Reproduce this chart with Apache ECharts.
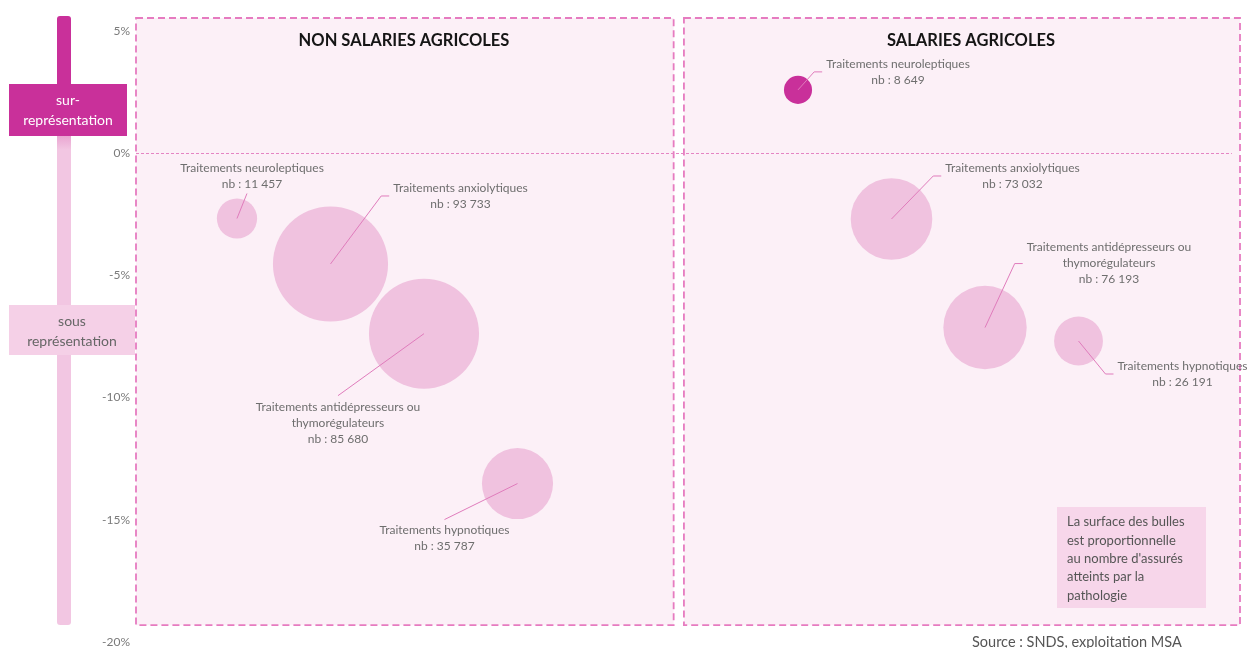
<!DOCTYPE html>
<html>
<head>
<meta charset="utf-8">
<script src="https://cdn.jsdelivr.net/npm/echarts@6/dist/echarts.min.js"></script>
<style>
html, body { margin: 0; padding: 0; background: #fff; }
#chart { width: 1250px; height: 648px; }
</style>
</head>
<body>
<div id="chart"></div>
<script>
// données
const treatments = [
    'Traitements neuroleptiques',
    'Traitements anxiolytiques',
    'Traitements antidépresseurs ou\nthymorégulateurs',
    'Traitements hypnotiques'
];
const nonSalPos = [1, 2, 3, 4];
const nonSalPct = [-2.68, -4.54, -7.39, -13.52];
const nonSalNb = [11457, 93733, 85680, 35787];
const salPos = [7, 8, 9, 10];
const salPct = [2.58, -2.70, -7.14, -7.69];
const salNb = [8649, 73032, 76193, 26191];
const yTicks = [-20, -15, -10, -5, 0, 5];
const panelTitles = ['NON SALARIES AGRICOLES', 'SALARIES AGRICOLES'];

// décalages des étiquettes (px) et point d'accroche du trait
const nonSalOffsets = [[15, -42], [130, -68], [-86, 89], [-73, 55]];
const nonSalAnchors = ['bottom', 'left', 'top', 'top'];
const salOffsets = [[100, -18], [121, -43], [124, -64], [104, 33]];
const salAnchors = ['left', 'left', 'left', 'left'];

const font = 'Lato, "Open Sans", sans-serif';
const labelSize = 12;
const labelLH = 16;
const dark = '#c9309a';
const light = '#f0c2df';

const ctx = document.createElement('canvas').getContext('2d');
ctx.font = labelSize + 'px ' + font;

function fmtNb(n) {
    return String(n).replace(/\B(?=(\d{3})+(?!\d))/g, ' ');
}

function labelText(name, nb) {
    return name + '\nnb : ' + fmtNb(nb);
}

function makeData(pos, pct, nb) {
    return pos.map((x, i) => ({ name: treatments[i], value: [x, pct[i], nb[i]] }));
}

function bubbleSeries(data, scale, offsets, extra) {
    return Object.assign({
        type: 'scatter',
        clip: false,
        data: data,
        symbolSize: v => scale * Math.sqrt(v[2]),
        itemStyle: {
            color: p => (p.value[1] > 0 ? dark : light),
            opacity: 1
        },
        label: {
            show: true,
            position: 'inside',
            formatter: p => labelText(p.name, p.value[2]),
            color: '#6e6e6e',
            fontFamily: font,
            fontSize: labelSize,
            lineHeight: labelLH,
            align: 'center'
        },
        labelLayout: p => ({ dx: offsets[p.dataIndex][0], dy: offsets[p.dataIndex][1] }),
        emphasis: { disabled: true },
        z: 3
    }, extra || {});
}

// traits de rappel : du centre de la bulle vers l'étiquette
function guideSeries(data, offsets, anchors) {
    return {
        type: 'custom',
        silent: true,
        z: 4,
        data: data,
        renderItem: (params, api) => {
            const i = params.dataIndex;
            const c = api.coord([api.value(0), api.value(1)]);
            const d = data[i];
            const lines = labelText(d.name, d.value[2]).split('\n');
            const w = Math.max(...lines.map(s => ctx.measureText(s).width));
            const h = lines.length * labelLH;
            const lx = c[0] + offsets[i][0];
            const ly = c[1] + offsets[i][1];
            let pts;
            if (anchors[i] === 'left') {
                const ex = lx - w / 2 - 4;
                pts = [c, [ex - 8, ly], [ex, ly]];
            } else if (anchors[i] === 'top') {
                pts = [c, [lx, ly - h / 2 - 3]];
            } else {
                pts = [c, [lx - 5, ly + h / 2 + 1]];
            }
            return {
                type: 'polyline',
                shape: { points: pts },
                style: { stroke: '#e07cbc', lineWidth: 1, fill: null }
            };
        }
    };
}

const nonSalData = makeData(nonSalPos, nonSalPct, nonSalNb);
const salData = makeData(salPos, salPct, salNb);

const chart = echarts.init(document.getElementById('chart'));
chart.setOption({
    animation: false,
    title: [
        {
            text: panelTitles[0], left: 399, top: 27, textAlign: 'center',
            textStyle: { fontFamily: font, fontSize: 16.5, fontWeight: 'bold', color: '#151515' }
        },
        {
            text: panelTitles[1], left: 966, top: 27, textAlign: 'center',
            textStyle: { fontFamily: font, fontSize: 16.5, fontWeight: 'bold', color: '#151515' }
        }
    ],
    grid: { left: 136, right: 10, top: 18, bottom: 6 },
    xAxis: {
        type: 'value',
        min: -0.08,
        max: 11.727,
        show: false
    },
    yAxis: {
        type: 'value',
        min: yTicks[0],
        max: 5.52,
        interval: 5,
        axisLine: { show: false },
        axisTick: { show: false },
        splitLine: { show: false },
        axisLabel: {
            formatter: v => (yTicks.indexOf(v) >= 0 ? v + '%' : ''),
            color: '#7a7a7a',
            fontFamily: font,
            fontSize: 12,
            margin: 6
        }
    },
    series: [
        bubbleSeries(nonSalData, 0.376, nonSalOffsets, {
            markArea: {
                silent: true,
                z: 1,
                itemStyle: {
                    color: '#fcf0f7',
                    borderColor: '#e67bc0',
                    borderWidth: 1.8,
                    borderType: [7, 4]
                },
                data: [
                    [{ coord: [-0.08, 5.52] }, { coord: [5.67, -19.31] }],
                    [{ coord: [5.78, 5.52] }, { coord: [11.727, -19.31] }]
                ]
            },
            markLine: {
                silent: true,
                symbol: 'none',
                label: { show: false },
                lineStyle: { color: '#e585c3', type: [3, 2], width: 1 },
                data: [[{ coord: [-0.08, 0] }, { coord: [11.64, 0] }]]
            }
        }),
        bubbleSeries(salData, 0.302, salOffsets),
        guideSeries(nonSalData, nonSalOffsets, nonSalAnchors),
        guideSeries(salData, salOffsets, salAnchors)
    ],
    graphic: [
        // barre verticale
        {
            type: 'rect', x: 57, y: 16, z: 1,
            shape: { width: 14, height: 70, r: [3, 3, 0, 0] },
            style: { fill: dark }
        },
        {
            type: 'rect', x: 57, y: 135, z: 1,
            shape: { width: 14, height: 490, r: [0, 0, 3, 3] },
            style: {
                fill: new echarts.graphic.LinearGradient(0, 0, 0, 1, [
                    { offset: 0, color: '#e9a3d0' },
                    { offset: 0.03, color: '#f2c6e2' },
                    { offset: 1, color: '#f2c6e2' }
                ])
            }
        },
        {
            type: 'rect', x: 9, y: 84, z: 2,
            shape: { width: 118, height: 52 },
            style: { fill: dark }
        },
        {
            type: 'text', x: 68, y: 90, z: 3,
            style: {
                text: 'sur-\nreprésentation', fill: '#fff', align: 'center',
                font: '14px ' + font, lineHeight: 20
            }
        },
        {
            type: 'rect', x: 9, y: 305, z: 2,
            shape: { width: 126, height: 50 },
            style: { fill: '#f5d0e7' }
        },
        {
            type: 'text', x: 72, y: 311, z: 3,
            style: {
                text: 'sous\nreprésentation', fill: '#666', align: 'center',
                font: '14px ' + font, lineHeight: 20
            }
        },
        // note
        {
            type: 'rect', x: 1057, y: 507, z: 2,
            shape: { width: 149, height: 101 },
            style: { fill: '#f7d6ea' }
        },
        {
            type: 'text', x: 1067, y: 513, z: 3,
            style: {
                text: 'La surface des bulles\nest proportionnelle\nau nombre d\'assurés\natteints par la\npathologie',
                fill: '#555', font: '13px ' + font, lineHeight: 18.3
            }
        },
        {
            type: 'text', x: 972, y: 635, z: 3,
            style: { text: 'Source : SNDS, exploitation MSA', fill: '#555', font: '14.5px ' + font }
        }
    ]
});
</script>
</body>
</html>
